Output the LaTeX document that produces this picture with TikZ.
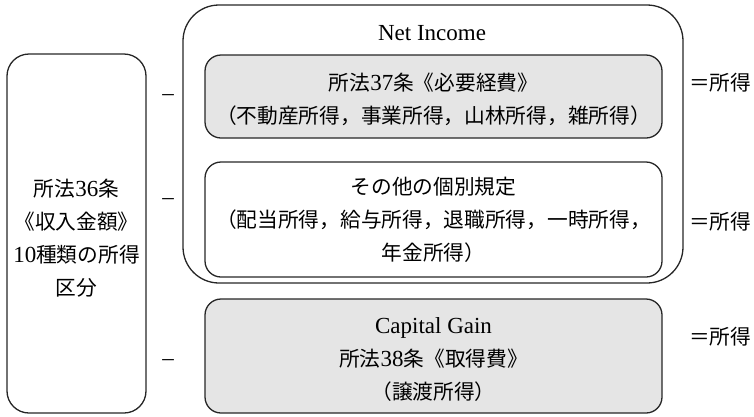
\documentclass[tikz,border=0pt]{standalone}
\usepackage{fontspec}
\setmainfont{Liberation Serif}
\newfontfamily\jp{Noto Sans CJK JP}[Scale=0.9]
\begin{document}
\begin{tikzpicture}[x=1pt,y=-1pt,
  frame/.style={draw=black!85, line width=1.3pt},
  inbox/.style={frame, rounded corners=16pt, align=center, inner sep=0pt},
  grayfill/.style={fill=black!10},
  txt/.style={font=\fontsize{23}{33}\selectfont, align=center, inner sep=0pt},
  sign/.style={font=\fontsize{23}{33}\selectfont, inner sep=0pt}
]
\useasboundingbox (0,0) rectangle (754,416);
% outer Net Income box
\node[frame, rounded corners=36pt, minimum width=500pt, minimum height=278pt, inner sep=0pt] (outer) at (433,144) {};
\node[txt, anchor=base] (ni) at (432,40) {Net Income};
% left box
\node[frame, rounded corners=22pt, minimum width=139pt, minimum height=359pt, inner sep=0pt] (left) at (76.5,233.5) {};
\node[txt] (lefttxt) at (76.5,238) {{\jp 所法}36{\jp 条}\\{\jp 《収入金額》}\\10{\jp 種類の所得}\\{\jp 区分}};
% box 1
\node[inbox, grayfill, minimum width=457pt, minimum height=83pt] (b1) at (433.5,96.5) {};
\node[txt] (b1t) at (433.5,99) {{\jp 所法}37{\jp 条《必要経費》}\\{\jp （不動産所得，事業所得，山林所得，雑所得）}};
% box 2
\node[inbox, minimum width=457pt, minimum height=115pt] (b2) at (433.5,219.5) {};
\node[txt] (b2t) at (433.5,219.5) {{\jp その他の個別規定}\\{\jp （配当所得，給与所得，退職所得，一時所得，}\\{\jp 年金所得）}};
% box 3
\node[inbox, grayfill, minimum width=457pt, minimum height=114pt] (b3) at (433.5,356) {};
\node[txt] (b3t) at (433.5,359.5) {Capital Gain\\{\jp 所法}38{\jp 条《取得費》}\\{\jp （譲渡所得）}};
% minus signs
\node[sign] (m1) at (168,98) {–};
\node[sign] (m2) at (168,202) {–};
\node[sign] (m3) at (168,363) {–};
% equals
\node[sign, anchor=west] (e1) at (689,83) {{\jp ＝所得}};
\node[sign, anchor=west] (e2) at (689,222) {{\jp ＝所得}};
\node[sign, anchor=west] (e3) at (689,337) {{\jp ＝所得}};
\end{tikzpicture}
\end{document}
